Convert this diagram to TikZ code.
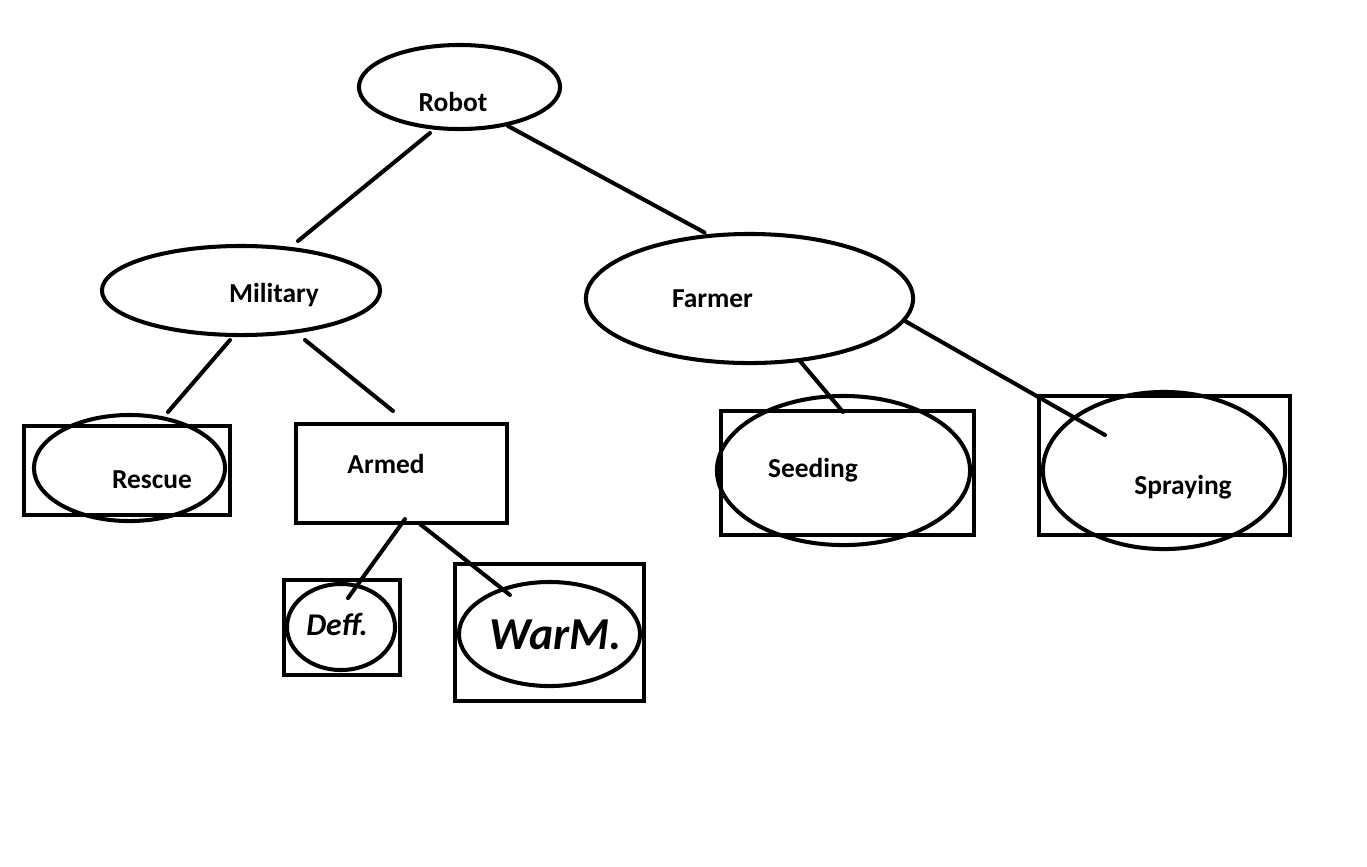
\documentclass[tikz,border=0pt]{standalone}
\usepackage{fontspec}
\setmainfont{Carlito}
\usetikzlibrary{shapes.geometric, calc}
\newcommand{\treefont}{\fontsize{7.8}{9}\selectfont\bfseries}
\tikzset{
	oval/.style={ellipse, draw, line width=1.15pt, inner sep=0pt},
	box/.style={rectangle, draw, line width=1.15pt, inner sep=0pt},
	lbl/.style={inner sep=0pt, anchor=base, font=\treefont},
	link/.style={line width=1.15pt, line cap=round}
}
\begin{document}
\begin{tikzpicture}[x=0.01cm, y=-0.01cm]
	\useasboundingbox (0, 0) rectangle (1367, 866);
	% Ovals and boxes:
	\node[oval, minimum width=2.01cm, minimum height=0.84cm] (robot) at (459.5, 87){};
	\node[oval, minimum width=2.78cm, minimum height=0.89cm] (military) at (241, 290.5){};
	\node[oval, minimum width=3.27cm, minimum height=1.29cm] (farmer) at (749.5, 298.5){};
	\node[box, minimum width=2.06cm, minimum height=0.89cm] (rescuebox) at (127, 470.5){};
	\node[oval, minimum width=1.91cm, minimum height=1.06cm] (rescue) at (129.5, 468){};
	\node[box, minimum width=2.11cm, minimum height=0.99cm] (armed) at (401.5, 473.5){};
	\node[box, minimum width=1.16cm, minimum height=0.95cm] (deffbox) at (342, 627.5){};
	\node[oval, minimum width=1.08cm, minimum height=0.86cm] (deff) at (341, 627){};
	\node[box, minimum width=1.89cm, minimum height=1.37cm] (warmbox) at (549.5, 632.5){};
	\node[oval, minimum width=1.81cm, minimum height=1.04cm] (warm) at (549.5, 634){};
	\node[box, minimum width=2.53cm, minimum height=1.24cm] (seedingbox) at (847.5, 473){};
	\node[oval, minimum width=2.53cm, minimum height=1.49cm] (seeding) at (843.5, 470.5){};
	\node[box, minimum width=2.51cm, minimum height=1.39cm] (sprayingbox) at (1164.5, 465.5){};
	\node[oval, minimum width=2.42cm, minimum height=1.57cm] (spraying) at (1164, 470.5){};
	% Labels:
	\node[lbl] (robottext) at (453, 111){Robot};
	\node[lbl] (militarytext) at (274, 302){Military};
	\node[lbl] (farmertext) at (712.5, 307){Farmer};
	\node[lbl] (rescuetext) at (152, 488){Rescue};
	\node[lbl] (armedtext) at (386, 473){Armed};
	\node[lbl] (seedingtext) at (813, 477){Seeding};
	\node[lbl] (sprayingtext) at (1183, 494){Spraying};
	\node[lbl, font=\fontsize{9}{11}\selectfont\bfseries\itshape] (defftext) at (337, 635){Deff.};
	\node[lbl, font=\fontsize{13}{15}\selectfont\bfseries\itshape] (warmtext) at (556, 649){WarM.};
	% Connectors:
	\draw[link] ($(robot)+(-29.5, 46)$) -- ($(military)+(57, -49.5)$);
	\draw[link] ($(robot)+(48.5, 39)$) -- ($(farmer)+(-45, -66)$);
	\draw[link] ($(military)+(-11, 49.5)$) -- ($(rescuebox)+(41, -58.5)$);
	\draw[link] ($(military)+(64, 49.5)$) -- ($(armed)+(-8.5, -62.5)$);
	\draw[link] ($(farmer)+(50.5, 62.5)$) -- ($(seedingbox)+(-4.5, -61)$);
	\draw[link] ($(farmer)+(155.5, 22.5)$) -- ($(sprayingbox)+(-59.5, -30.5)$);
	\draw[link] ($(armed)+(3.5, 45.5)$) -- ($(deffbox)+(6, -29.5)$);
	\draw[link] ($(armed)+(18.5, 50.5)$) -- ($(warmbox)+(-39.5, -37.5)$);
\end{tikzpicture}
\end{document}
